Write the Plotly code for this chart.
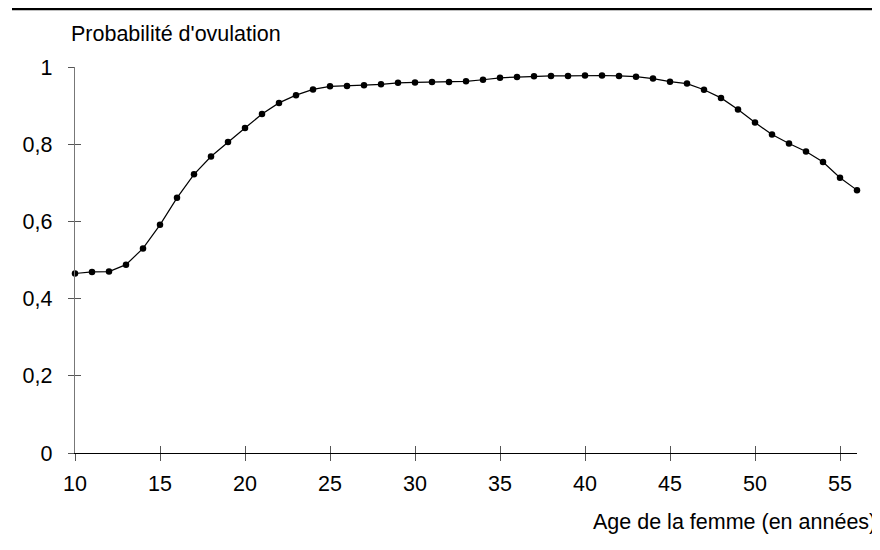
import plotly.graph_objects as go

ages = list(range(10, 57))
prob = [0.465, 0.469, 0.470, 0.488, 0.530, 0.591, 0.661, 0.722, 0.768, 0.806,
        0.842, 0.878, 0.907, 0.927, 0.942, 0.950, 0.951, 0.953, 0.955, 0.959,
        0.960, 0.961, 0.961, 0.963, 0.967, 0.972, 0.974, 0.976, 0.977, 0.977,
        0.978, 0.978, 0.977, 0.975, 0.970, 0.962, 0.957, 0.941, 0.920, 0.890,
        0.856, 0.825, 0.802, 0.781, 0.754, 0.713, 0.681]
x_ticks = [10, 15, 20, 25, 30, 35, 40, 45, 50, 55]
y_ticks = [0, 0.2, 0.4, 0.6, 0.8, 1]
y_title = "Probabilité d'ovulation"
x_title = "Age de la femme (en années)"

FONT = "Liberation Sans, Arial, sans-serif"
W, H = 880, 550
# the page body adds an 8 px offset, so the figure is laid out 8 px up/left
OFF = 8
ml, mt = 75 - OFF, 67 - OFF
pw, ph = 782, 386
mr = W - ml - pw
mb = H - mt - ph


def px_x(sx):
    """screen x -> paper x"""
    return (sx - OFF - ml) / pw


def px_y(sy):
    """screen y -> paper y"""
    return (mt + ph - (sy - OFF)) / ph


fig = go.Figure()
fig.add_trace(go.Scatter(
    x=ages, y=prob, mode="lines+markers",
    line=dict(color="black", width=1.2),
    marker=dict(color="black", size=6.5),
    cliponaxis=False, showlegend=False,
))
# helper trace for the overlaid axes (cross ticks)
fig.add_trace(go.Scatter(x=[], y=[], xaxis="x2", yaxis="y2", showlegend=False))

common_font = dict(family=FONT, size=21.5, color="black")

fig.update_layout(
    width=W, height=H,
    margin=dict(l=ml, r=mr, t=mt, b=mb, pad=0),
    paper_bgcolor="white", plot_bgcolor="white",
    separators=", ",
    font=common_font,
    xaxis=dict(range=[10, 56], tickvals=x_ticks, showgrid=False, zeroline=False,
               showline=True, linecolor="black", linewidth=1.3,
               ticks="outside", ticklen=7, tickcolor="#555", tickwidth=1,
               tickfont=common_font, ticklabelstandoff=4),
    yaxis=dict(range=[0, 1], tickvals=y_ticks, showgrid=False, zeroline=False,
               showline=True, linecolor="#777", linewidth=1.4,
               ticks="outside", ticklen=6, tickcolor="#555", tickwidth=1,
               tickfont=common_font, ticklabelstandoff=11),
    xaxis2=dict(range=[10, 56], tickvals=x_ticks, overlaying="x", anchor="y",
                side="bottom", showgrid=False, zeroline=False, showline=False,
                ticks="inside", ticklen=7, tickcolor="#555", tickwidth=1,
                showticklabels=False),
    yaxis2=dict(range=[0, 1], tickvals=y_ticks, overlaying="y", anchor="x",
                side="left", showgrid=False, zeroline=False, showline=False,
                ticks="inside", ticklen=6, tickcolor="#555", tickwidth=1,
                showticklabels=False),
    annotations=[
        dict(text=y_title, xref="paper", yref="paper",
             x=px_x(69), y=px_y(34),
             xanchor="left", yanchor="middle", showarrow=False, font=common_font),
        dict(text=x_title, xref="paper", yref="paper",
             x=px_x(878), y=px_y(522),
             xanchor="right", yanchor="middle", showarrow=False, font=common_font),
    ],
    shapes=[
        dict(type="line", xref="paper", yref="paper",
             x0=px_x(12), x1=px_x(890),
             y0=px_y(9), y1=px_y(9),
             line=dict(color="black", width=2.5)),
    ],
)

fig.write_html("out.html")
